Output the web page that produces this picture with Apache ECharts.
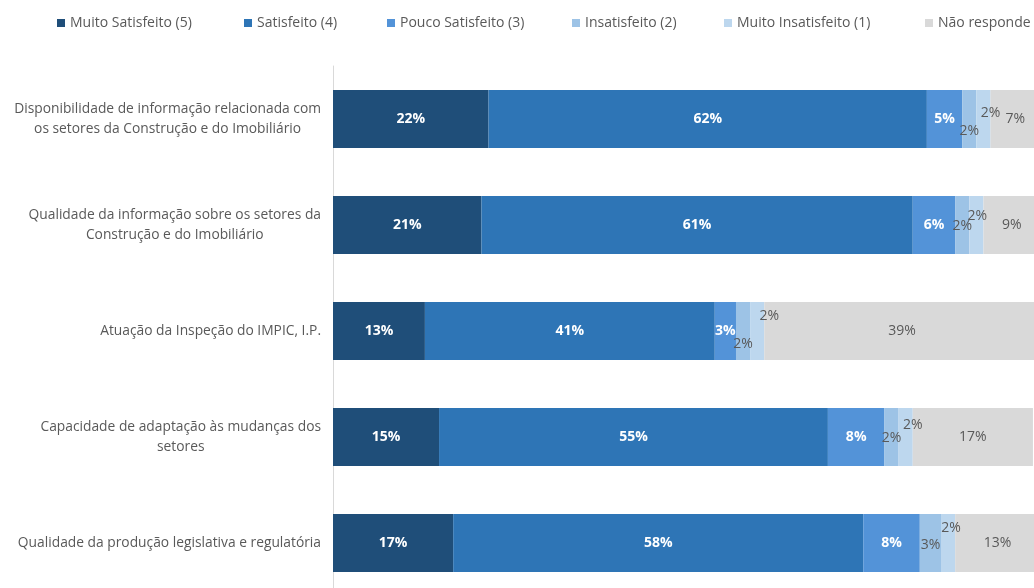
<!DOCTYPE html>
<html>
<head>
	<meta charset="UTF-8">
	<title>Satisfação</title>
	<script src="https://cdn.jsdelivr.net/npm/echarts@6/dist/echarts.min.js"></script>
	<style>
		html, body { margin: 0; padding: 0; background: #fff; }
		#chart { width: 1034px; height: 588px; }
	</style>
</head>
<body>
	<div id="chart"></div>
<script type="text/javascript">
	// categorias (de cima para baixo)
	var categories = [
		'Disponibilidade de informação relacionada com\nos setores da Construção e do Imobiliário',
		'Qualidade da informação sobre os setores da\nConstrução e do Imobiliário',
		'Atuação da Inspeção do IMPIC, I.P.',
		'Capacidade de adaptação às mudanças dos\nsetores',
		'Qualidade da produção legislativa e regulatória'
	];
	var seriesNames = ['Muito Satisfeito (5)', 'Satisfeito (4)', 'Pouco Satisfeito (3)', 'Insatisfeito (2)', 'Muito Insatisfeito (1)', 'Não responde'];
	var muitoSatisfeito = [22, 21, 13, 15, 17];
	var satisfeito = [62, 61, 41, 55, 58];
	var poucoSatisfeito = [5, 6, 3, 8, 8];
	var insatisfeito = [2, 2, 2, 2, 3];
	var muitoInsatisfeito = [2, 2, 2, 2, 2];
	var naoResponde = [7, 9, 39, 17, 13];

	var values = [muitoSatisfeito, satisfeito, poucoSatisfeito, insatisfeito, muitoInsatisfeito, naoResponde];
	var colors = ['#1f4e79', '#2e75b6', '#5393d8', '#9dc3e6', '#bdd7ee', '#d9d9d9'];
	var legendLeft = [52, 239, 382, 567, 719, 920];

	// deslocamento das etiquetas pequenas (como no Excel)
	var labelOffsets = {
		3: [[0, 12], [0, 1], [0, 13], [0, 1], [0, 2]],
		4: [[7, -6], [1, -9], [12, -15], [7, -12], [3, -15]]
	};

	var myChart = echarts.init(document.getElementById('chart'));

	var series = values.map(function (arr, i) {
		var light = i >= 3;
		return {
			name: seriesNames[i],
			type: 'bar',
			stack: 'total',
			barWidth: 58,
			itemStyle: { color: colors[i] },
			label: {
				show: true,
				position: 'inside',
				formatter: '{c}%',
				fontFamily: 'Open Sans',
				fontSize: 14,
				fontWeight: light ? 'normal' : 'bold',
				color: light ? '#595959' : '#ffffff'
			},
			data: arr.map(function (v, j) {
				var d = { value: v };
				if (labelOffsets[i]) d.label = { offset: labelOffsets[i][j] };
				return d;
			})
		};
	});

	var option = {
		animation: false,
		legend: seriesNames.map(function (n, i) {
			return {
				data: [n],
				left: legendLeft[i],
				top: 11,
				itemWidth: 8,
				itemHeight: 8,
				icon: 'rect',
				textStyle: { fontFamily: 'Open Sans', fontSize: 14, color: '#595959' }
			};
		}),
		grid: { left: 333, width: 707, top: 66, height: 530, outerBoundsMode: 'none', containLabel: false },
		xAxis: {
			type: 'value',
			min: 0,
			max: 100,
			show: false
		},
		yAxis: {
			type: 'category',
			inverse: true,
			data: categories,
			axisLine: { show: true, lineStyle: { color: '#d9d9d9', width: 1 } },
			axisTick: { show: false },
			axisLabel: {
				margin: 12,
				formatter: function (v) {
					return v.split('\n').map(function (l) { return '{c|' + l + '}'; }).join('\n');
				},
				rich: {
					c: { align: 'center', fontFamily: 'Open Sans', fontSize: 13.8, lineHeight: 20, color: '#595959' }
				}
			}
		},
		series: series
	};

	myChart.setOption(option);
</script>
</body>
</html>
